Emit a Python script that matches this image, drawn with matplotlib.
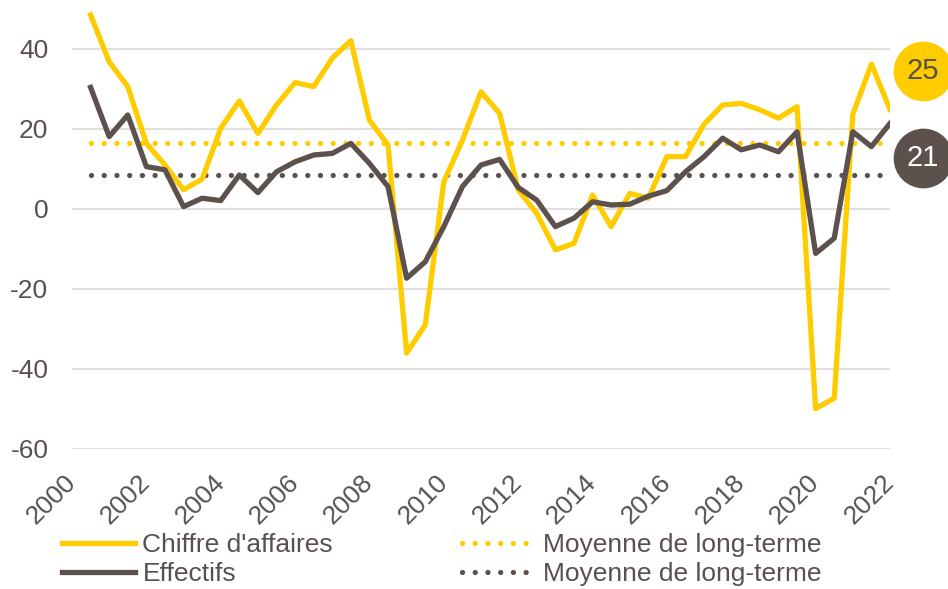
import matplotlib
matplotlib.use("Agg")
import matplotlib.pyplot as plt
import numpy as np

# semi-annual survey points, mid-2000 to end-2021
periods = np.arange(2000.5, 2022.01, 0.5)

chiffre_affaires = [48.5, 36.8, 30.6, 16.4, 11.0, 4.8, 7.5, 20.2, 27.0, 18.9,
                    26.0, 31.6, 30.6, 37.7, 42.1, 22.2, 16.0, -36.0, -29.0, 6.8,
                    17.2, 29.3, 23.9, 4.8, -1.1, -10.2, -8.6, 3.5, -4.4, 3.9,
                    2.7, 13.1, 13.1, 21.2, 26.0, 26.4, 24.8, 22.7, 25.6, -49.9,
                    -47.3, 23.7, 36.2, 24.9]
effectifs = [30.4, 18.1, 23.5, 10.6, 9.8, 0.6, 2.7, 2.1, 8.5, 4.1,
             9.3, 11.8, 13.5, 13.9, 16.4, 11.4, 5.6, -17.3, -13.2, -4.4,
             5.6, 11.0, 12.4, 5.4, 2.2, -4.4, -2.3, 1.8, 1.0, 1.2,
             3.2, 4.6, 9.3, 13.1, 17.7, 14.8, 16.0, 14.3, 19.3, -11.1,
             -7.3, 19.3, 15.6, 21.4]
moyenne_ca = 16.4
moyenne_eff = 8.5

labels = ["Chiffre d'affaires", "Effectifs", "Moyenne de long-terme", "Moyenne de long-terme"]
year_ticks = list(range(2000, 2023, 2))
y_ticks = [-60, -40, -20, 0, 20, 40]

YELLOW = "#FFCC00"
DARK = "#5C514D"
TEXT = "#595050"
GRID = "#E4DFDF"

plt.rcParams["font.family"] = ["Liberation Sans", "DejaVu Sans"]
plt.rcParams["axes.unicode_minus"] = False

fig = plt.figure(figsize=(9.48, 5.89), dpi=100)
ax = fig.add_axes([72/948, 140/589, 818/948, 449/589])

ax.plot(periods, chiffre_affaires, color=YELLOW, lw=3.8, solid_joinstyle="round", label=labels[0], zorder=3)
ax.plot(periods, effectifs, color=DARK, lw=3.8, solid_joinstyle="round", label=labels[1], zorder=4)

dots = (0, (0.01, 2.4))
ax.plot([periods[0], periods[-1]], [moyenne_ca]*2, color=YELLOW, lw=3.8, ls=dots,
        dash_capstyle="round", label=labels[2], zorder=2)
ax.plot([periods[0], periods[-1]], [moyenne_eff]*2, color=DARK, lw=3.8, ls=dots,
        dash_capstyle="round", label=labels[3], zorder=2)

ax.set_xlim(2000, 2022)
ax.set_ylim(-60, 52.25)
ax.set_yticks(y_ticks)
ax.set_xticks(year_ticks)
ax.set_xticklabels([str(y) for y in year_ticks], rotation=45, ha="right", va="center",
                   rotation_mode="anchor")
ax.tick_params(axis="both", length=0, labelsize=19, colors=TEXT)
ax.tick_params(axis="y", pad=17)
ax.tick_params(axis="x", pad=21)
ax.grid(axis="y", color=GRID, lw=1.5)
ax.set_axisbelow(True)
for s in ax.spines.values():
    s.set_visible(False)

# end-value bubbles
bubble_x = 2022.89
ax.plot([bubble_x], [34.5], "o", ms=43, color=YELLOW, mec="none", clip_on=False)
ax.text(bubble_x, 34.5, f"{round(chiffre_affaires[-1])}", color=TEXT, fontsize=21,
        ha="center", va="center", clip_on=False)
ax.plot([bubble_x], [12.75], "o", ms=43, color=DARK, mec="none", clip_on=False)
ax.text(bubble_x, 12.75, f"{round(effectifs[-1])}", color="white", fontsize=21,
        ha="center", va="center", clip_on=False)

leg = fig.legend(loc="upper left", bbox_to_anchor=(62/948, 1 - 533/589), ncol=2, frameon=False,
                 fontsize=19, handlelength=2.75, handletextpad=0.3, columnspacing=4.9,
                 labelspacing=0.2, borderpad=0, borderaxespad=0)
for t in leg.get_texts():
    t.set_color(TEXT)

fig.savefig("out.png", dpi=100)
